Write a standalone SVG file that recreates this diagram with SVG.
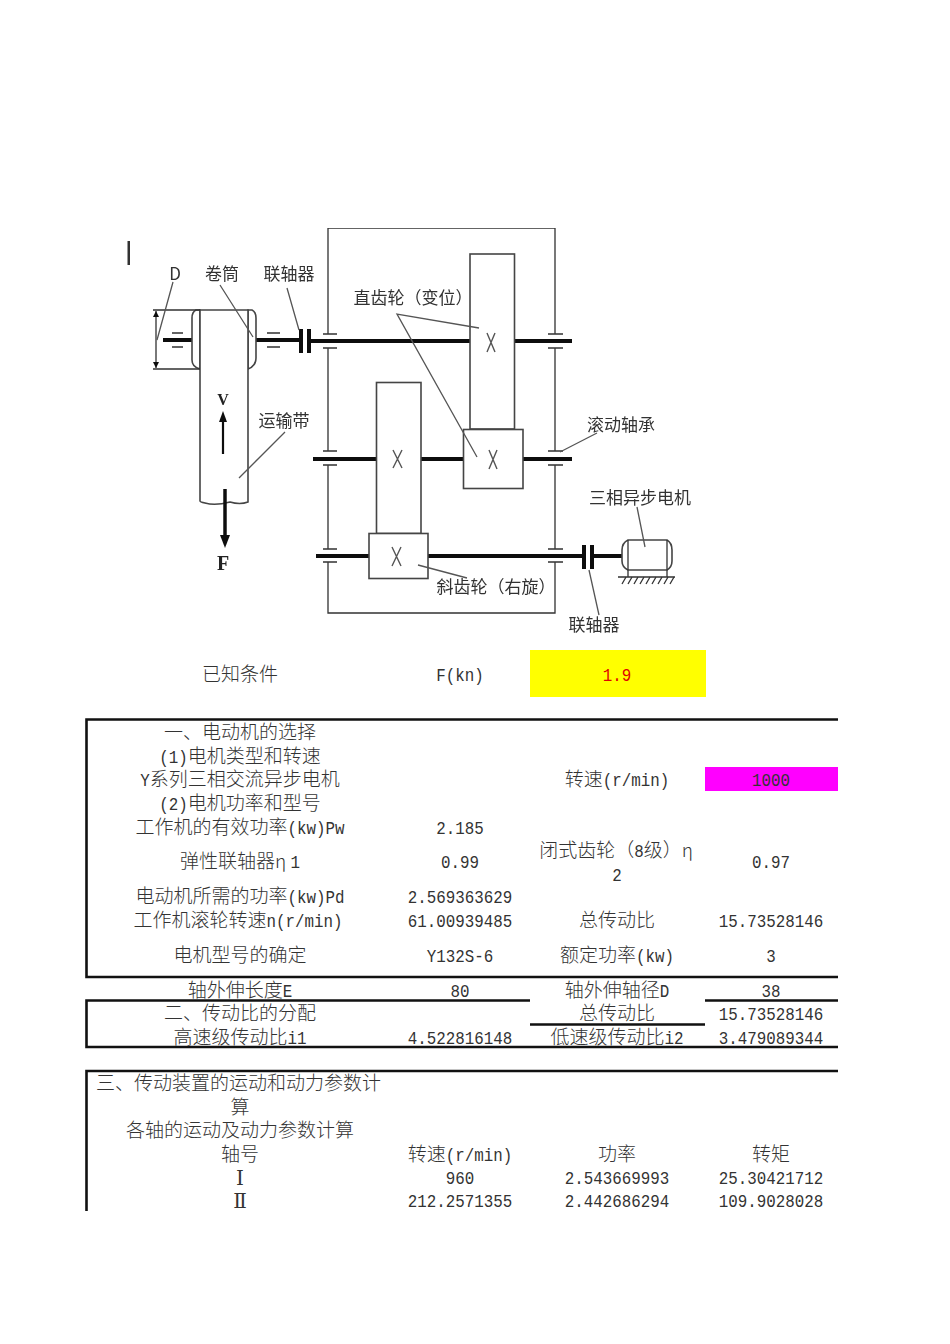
<svg xmlns="http://www.w3.org/2000/svg" width="950" height="1344" viewBox="0 0 950 1344">
<defs>
<marker id="tip" markerWidth="6" markerHeight="7" refX="6" refY="3" orient="auto-start-reverse" markerUnits="userSpaceOnUse"><path d="M0 0L6 3L0 6Z" fill="#111"/></marker>
<filter id="soft" x="0" y="0" width="1" height="1"><feGaussianBlur stdDeviation="0.45"/></filter>
</defs>
<style>
text{font-family:"Noto Sans CJK SC","Liberation Sans",sans-serif;font-size:19px;fill:#333;text-anchor:middle;font-weight:300}
tspan.m{font-family:"Liberation Mono",monospace;font-size:19px}
.lab{font-size:17px;fill:#333;font-weight:400}
.st{text-anchor:start}
.thin{fill:none;stroke:#333;stroke-width:1.3}
.part{fill:#fff;stroke:#444;stroke-width:1.6}
.lead{fill:none;stroke:#555;stroke-width:1.3}
.shaft{fill:none;stroke:#111;stroke-width:4}
.bar{fill:#111}
.x{fill:none;stroke:#555;stroke-width:1.4}
.tb{fill:none;stroke:#111;stroke-width:2.6}
</style>
<rect width="950" height="1344" fill="#fff"/>

<g id="mechanism" filter="url(#soft)">
<rect x="127.500" y="241" width="2.500" height="24" fill="#333"/>
<g id="housing">
<path class="thin" d="M328 334V228H555V334M328 348V451M555 348V451M328 465V549M555 465V549M328 562V613H555V562"/>
<path class="thin" d="M323 334H337M323 348H337M323 451H337M323 465H337M323 549H337M323 562H337M548 334H563M548 348H563M548 451H563M548 465H563M548 549H563M548 562H563"/>
</g>
<g id="shafts">
<path class="shaft" d="M312 341H470M514 341H572M313 459H377M421 459H464M523 459H572M316 556H369M428 556H582M593 556H622"/>
<path class="shaft" d="M163 340H192M256 340H299M311 341H314"/>
</g>
<g id="gears">
<rect class="part" x="470" y="254" width="44.500" height="175"/>
<rect class="part" x="463.500" y="429.500" width="59.500" height="59"/>
<rect class="part" x="376.500" y="382.500" width="44.500" height="151"/>
<rect class="part" x="369" y="533.500" width="59" height="45"/>
<path class="x" d="M487 333L495 352M495 333L487 352M489 450L497 469M497 450L489 469M393 450L402 468M402 450L393 468M392 547L401 566M401 547L392 566"/>
</g>
<g id="drum">
<path class="part" d="M200 310H196Q192 312 192 318V360Q192 367 200 369Z"/>
<path class="part" d="M248 310H252Q256 312 256 318V358Q256 366 248 369Z"/>
<path class="part" d="M200 310H248V502Q240 505 230 502Q215 506 205 503Q200 502 200 501Z"/>
<path class="thin" d="M153 310H200M153 369H200"/>
<path class="thin" d="M156 311V368" marker-start="url(#tip)" marker-end="url(#tip)"/>
<path class="thin" d="M172 333H183M172 347H183M267 333H280M267 347H280"/>
<rect class="bar" x="299" y="329" width="4" height="24"/>
<rect class="bar" x="307" y="329" width="4" height="24"/>
<path d="M223 454V420" fill="none" stroke="#111" stroke-width="2.200"/>
<path d="M219 422L223 411L227 422Z" fill="#111"/>
<path d="M225 489V537" fill="none" stroke="#111" stroke-width="3.500"/>
<path d="M220 535L225 548L230 535Z" fill="#111"/>
</g>
<g id="motor">
<rect class="bar" x="582" y="545" width="4" height="24"/>
<rect class="bar" x="590" y="545" width="4" height="24"/>
<path class="part" d="M628 540H667Q672 543 672 550V561Q672 567 667 570H628Q622 567 622 561V550Q622 543 628 540Z"/>
<path class="thin" d="M628 540V570M667 540V570M628 570V577M667 570V577M618 577H675"/>
<path class="thin" d="M622 584L626 577M628 584L632 577M634 584L638 577M640 584L644 577M646 584L650 577M652 584L656 577M658 584L662 577M664 584L668 577M670 584L674 577"/>
</g>
<g id="leaders">
<path class="lead" d="M173 282L157 340M220 285L253 337M287 288L299 330M479 328L397 314L477 457M597 433L560 452M637 507L645 547M418 565L467 578M589 570L599 615M285 432L239 478"/>
</g>
<g id="labels">
<text class="lab" x="175" y="280">D</text>
<text class="lab" x="222" y="280">卷筒</text>
<text class="lab" x="289" y="280">联轴器</text>
<text class="lab" x="413" y="304">直齿轮（变位）</text>
<text class="lab" x="284" y="427">运输带</text>
<text class="lab" x="621" y="431">滚动轴承</text>
<text class="lab" x="640" y="504">三相异步电机</text>
<text class="lab" x="496" y="593">斜齿轮（右旋）</text>
<text class="lab" x="594" y="631">联轴器</text>
<text x="223" y="405" style="font-family:'Liberation Serif',serif;font-weight:700;font-size:16px;fill:#222">V</text>
<text x="223" y="570" style="font-family:'Liberation Serif',serif;font-weight:700;font-size:20px;fill:#222">F</text>
</g>
</g>

<g id="cells">
<rect x="530" y="650" width="176" height="47" fill="#ffff00"/>
<rect x="705" y="767" width="133" height="24" fill="#ff00ff"/>
</g>

<g id="table-lines">
<path class="tb" d="M838 719.500H86.500V977H838"/>
<path class="tb" d="M530 1000.500H86.500V1047H838M530 1024.500H705M705 1000.500H838"/>
<path class="tb" d="M838 1071H86.500V1211"/>
</g>

<g id="table-text" transform="translate(0 1)">
<text x="240" y="680">已知条件</text>
<text x="460" y="680"><tspan class="m" textLength="47.500" lengthAdjust="spacingAndGlyphs">F(kn)</tspan></text>
<text x="617" y="680" style="fill:#e00000"><tspan class="m" textLength="28.500" lengthAdjust="spacingAndGlyphs" style="fill:#e00000">1.9</tspan></text>

<text x="240" y="738">一、电动机的选择</text>
<text x="240" y="762"><tspan class="m" textLength="28.500" lengthAdjust="spacingAndGlyphs">(1)</tspan>电机类型和转速</text>
<text x="240" y="785"><tspan class="m" textLength="9.500" lengthAdjust="spacingAndGlyphs">Y</tspan>系列三相交流异步电机</text>
<text x="617" y="785">转速<tspan class="m" textLength="66.500" lengthAdjust="spacingAndGlyphs">(r/min)</tspan></text>
<text x="771" y="785"><tspan class="m" textLength="38" lengthAdjust="spacingAndGlyphs">1000</tspan></text>
<text x="240" y="809"><tspan class="m" textLength="28.500" lengthAdjust="spacingAndGlyphs">(2)</tspan>电机功率和型号</text>
<text x="240" y="833">工作机的有效功率<tspan class="m" textLength="57" lengthAdjust="spacingAndGlyphs">(kw)Pw</tspan></text>
<text x="460" y="833"><tspan class="m" textLength="47.500" lengthAdjust="spacingAndGlyphs">2.185</tspan></text>
<text x="240" y="867" xml:space="preserve">弹性联轴器η <tspan class="m" textLength="9.500" lengthAdjust="spacingAndGlyphs">1</tspan></text>
<text x="460" y="867"><tspan class="m" textLength="38" lengthAdjust="spacingAndGlyphs">0.99</tspan></text>
<text x="616" y="856">闭式齿轮（<tspan class="m" textLength="9.500" lengthAdjust="spacingAndGlyphs">8</tspan>级）η</text>
<text x="617" y="880"><tspan class="m" textLength="9.500" lengthAdjust="spacingAndGlyphs">2</tspan></text>
<text x="771" y="867"><tspan class="m" textLength="38" lengthAdjust="spacingAndGlyphs">0.97</tspan></text>
<text x="240" y="902">电动机所需的功率<tspan class="m" textLength="57" lengthAdjust="spacingAndGlyphs">(kw)Pd</tspan></text>
<text x="460" y="902"><tspan class="m" textLength="104.500" lengthAdjust="spacingAndGlyphs">2.569363629</tspan></text>
<text x="238" y="926">工作机滚轮转速<tspan class="m" textLength="76" lengthAdjust="spacingAndGlyphs">n(r/min)</tspan></text>
<text x="460" y="926"><tspan class="m" textLength="104.500" lengthAdjust="spacingAndGlyphs">61.00939485</tspan></text>
<text x="617" y="926">总传动比</text>
<text x="771" y="926"><tspan class="m" textLength="104.500" lengthAdjust="spacingAndGlyphs">15.73528146</tspan></text>
<text x="240" y="961">电机型号的确定</text>
<text x="460" y="961"><tspan class="m" textLength="66.500" lengthAdjust="spacingAndGlyphs">Y132S-6</tspan></text>
<text x="617" y="961">额定功率<tspan class="m" textLength="38" lengthAdjust="spacingAndGlyphs">(kw)</tspan></text>
<text x="771" y="961"><tspan class="m" textLength="9.500" lengthAdjust="spacingAndGlyphs">3</tspan></text>

<text x="240" y="996">轴外伸长度<tspan class="m" textLength="9.500" lengthAdjust="spacingAndGlyphs">E</tspan></text>
<text x="460" y="996"><tspan class="m" textLength="19" lengthAdjust="spacingAndGlyphs">80</tspan></text>
<text x="617" y="996">轴外伸轴径<tspan class="m" textLength="9.500" lengthAdjust="spacingAndGlyphs">D</tspan></text>
<text x="771" y="996"><tspan class="m" textLength="19" lengthAdjust="spacingAndGlyphs">38</tspan></text>
<text x="240" y="1019">二、传动比的分配</text>
<text x="617" y="1019">总传动比</text>
<text x="771" y="1019"><tspan class="m" textLength="104.500" lengthAdjust="spacingAndGlyphs">15.73528146</tspan></text>
<text x="240" y="1043">高速级传动比<tspan class="m" textLength="19" lengthAdjust="spacingAndGlyphs">i1</tspan></text>
<text x="460" y="1043"><tspan class="m" textLength="104.500" lengthAdjust="spacingAndGlyphs">4.522816148</tspan></text>
<text x="617" y="1043">低速级传动比<tspan class="m" textLength="19" lengthAdjust="spacingAndGlyphs">i2</tspan></text>
<text x="771" y="1043"><tspan class="m" textLength="104.500" lengthAdjust="spacingAndGlyphs">3.479089344</tspan></text>

<text class="st" x="96" y="1089">三、传动装置的运动和动力参数计</text>
<text x="240" y="1113">算</text>
<text x="240" y="1136">各轴的运动及动力参数计算</text>
<text x="240" y="1160">轴号</text>
<text x="460" y="1160">转速<tspan class="m" textLength="66.500" lengthAdjust="spacingAndGlyphs">(r/min)</tspan></text>
<text x="617" y="1160">功率</text>
<text x="771" y="1160">转矩</text>
<text x="240" y="1184" style="font-family:'DejaVu Serif',serif;font-size:20px">Ⅰ</text>
<text x="460" y="1183"><tspan class="m" textLength="28.500" lengthAdjust="spacingAndGlyphs">960</tspan></text>
<text x="617" y="1183"><tspan class="m" textLength="104.500" lengthAdjust="spacingAndGlyphs">2.543669993</tspan></text>
<text x="771" y="1183"><tspan class="m" textLength="104.500" lengthAdjust="spacingAndGlyphs">25.30421712</tspan></text>
<text x="240" y="1207" style="font-family:'DejaVu Serif',serif;font-size:20px">Ⅱ</text>
<text x="460" y="1206"><tspan class="m" textLength="104.500" lengthAdjust="spacingAndGlyphs">212.2571355</tspan></text>
<text x="617" y="1206"><tspan class="m" textLength="104.500" lengthAdjust="spacingAndGlyphs">2.442686294</tspan></text>
<text x="771" y="1206"><tspan class="m" textLength="104.500" lengthAdjust="spacingAndGlyphs">109.9028028</tspan></text>
</g>
</svg>
